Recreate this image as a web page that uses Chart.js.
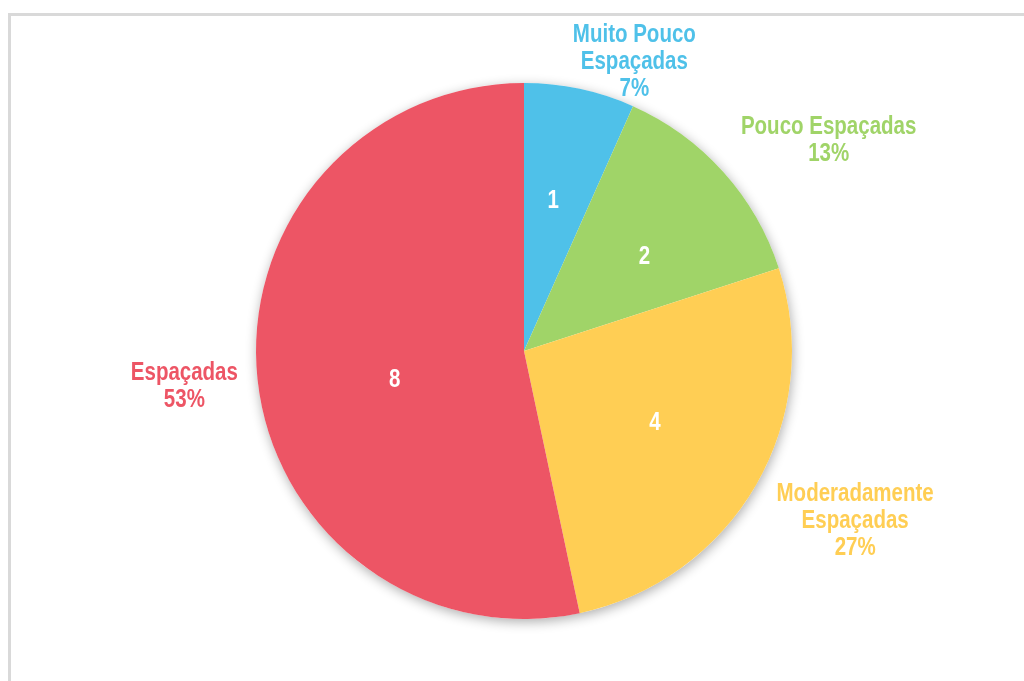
<!DOCTYPE html>
<html>
<head>
<meta charset="utf-8">
<script src="https://cdn.jsdelivr.net/npm/chart.js@4.4.1/dist/chart.umd.min.js"></script>
<style>
  html, body { margin: 0; padding: 0; background: #fff; overflow: hidden; }
  #wrap { position: relative; width: 1024px; height: 681px; }
  #frame { position: absolute; left: 8px; top: 13px; width: 1100px; height: 720px;
           border-top: 3px solid #d9d9d9; border-left: 3px solid #d9d9d9; box-sizing: border-box; }
  canvas { position: absolute; left: 0; top: 0; }
</style>
</head>
<body>
<div id="wrap">
  <div id="frame"></div>
  <canvas id="c" width="1024" height="681"></canvas>
</div>
<script>
// Category names (one entry per text line) and counts per category
const categories = [
  ['Muito Pouco', 'Espaçadas'],
  ['Pouco Espaçadas'],
  ['Moderadamente', 'Espaçadas'],
  ['Espaçadas']
];
const counts = [1, 2, 4, 8];
const sliceColors = ['#4FC1E9', '#A0D468', '#FFCE54', '#ED5565'];

const total = counts.reduce((a, b) => a + b, 0);
const percentText = counts.map(v => Math.round(v / total * 100) + '%');

// Fine placement tweaks for the labels, in pixels [dx, dy]
const innerLabelShift = [[-2, -3], [9, 7], [1, -3], [20, 13]];
const outerLabelShift = [[-5, 2], [18, 7], [5, 1], [10, 2]];

// Text styling
const FONT_PX = 25;
const LINE_H = 27;
function pickFont() {
  const c = document.createElement('canvas').getContext('2d');
  c.font = `bold ${FONT_PX}px monospace`;
  const a = c.measureText('Moderadamente').width;
  c.font = `bold ${FONT_PX}px "Liberation Sans Narrow", monospace`;
  const b = c.measureText('Moderadamente').width;
  return Math.abs(a - b) > 0.5
    ? { family: '"Liberation Sans Narrow"', sx: 1 }
    : { family: '"Liberation Sans", Arial, sans-serif', sx: 0.82 };
}
const FONT = pickFont();

function textWidth(ctx, t) { return ctx.measureText(t).width * FONT.sx; }
function drawText(ctx, t, x, y) {
  ctx.save();
  ctx.translate(x, y);
  ctx.scale(FONT.sx, 1);
  ctx.fillText(t, 0, 0);
  ctx.restore();
}

// Soft shadow under the whole pie
const pieShadow = {
  id: 'pieShadow',
  beforeDatasetsDraw(chart) {
    const arc = chart.getDatasetMeta(0).data[0];
    if (!arc) return;
    const ctx = chart.ctx;
    ctx.save();
    ctx.shadowColor = 'rgba(0,0,0,0.32)';
    ctx.shadowBlur = 12;
    ctx.shadowOffsetX = 1;
    ctx.shadowOffsetY = 3;
    ctx.fillStyle = '#ffffff';
    ctx.beginPath();
    ctx.arc(arc.x, arc.y, arc.outerRadius, 0, Math.PI * 2);
    ctx.fill();
    ctx.restore();
  }
};

// Values inside slices, names and percentages outside
const sliceLabels = {
  id: 'sliceLabels',
  afterDatasetsDraw(chart) {
    const ctx = chart.ctx;
    const arcs = chart.getDatasetMeta(0).data;
    ctx.save();
    ctx.font = `bold ${FONT_PX}px ${FONT.family}`;
    ctx.textAlign = 'center';
    ctx.textBaseline = 'middle';
    const GAP = 30, TOP_MIN = 20;
    arcs.forEach((arc, i) => {
      const { x, y, startAngle, endAngle, outerRadius: R } = arc.getProps(['x', 'y', 'startAngle', 'endAngle', 'outerRadius'], true);
      const mid = (startAngle + endAngle) / 2;
      const ux = Math.cos(mid), uy = Math.sin(mid);

      // value inside the slice
      ctx.fillStyle = '#ffffff';
      drawText(ctx, String(counts[i]),
        x + ux * R * 0.56 + innerLabelShift[i][0],
        y + uy * R * 0.56 + innerLabelShift[i][1]);

      // name + percentage outside the slice
      const lines = [...categories[i], percentText[i]];
      const w = Math.max(...lines.map(t => textWidth(ctx, t)));
      const h = lines.length * LINE_H;
      let cx = x + (R + GAP) * ux + ux * w / 2;
      let cy = y + (R + GAP) * uy + uy * h / 2;
      const top = cy - h / 2;
      if (top < TOP_MIN) {
        const d = TOP_MIN - top;
        cy += d;
        cx += Math.sign(ux) * d;
      }
      cx += outerLabelShift[i][0];
      cy += outerLabelShift[i][1];
      ctx.fillStyle = sliceColors[i];
      lines.forEach((t, k) => {
        drawText(ctx, t, cx, cy + (k - (lines.length - 1) / 2) * LINE_H);
      });
    });
    ctx.restore();
  }
};

new Chart(document.getElementById('c'), {
  type: 'pie',
  data: {
    labels: categories.map(c => c.join(' ')),
    datasets: [{
      data: counts,
      backgroundColor: sliceColors,
      borderWidth: 0,
      hoverOffset: 0
    }]
  },
  options: {
    responsive: false,
    animation: false,
    devicePixelRatio: 1,
    events: [],
    layout: { padding: { left: 256, right: 232, top: 83, bottom: 62 } },
    plugins: { legend: { display: false }, tooltip: { enabled: false } }
  },
  plugins: [pieShadow, sliceLabels]
});
</script>
</body>
</html>
